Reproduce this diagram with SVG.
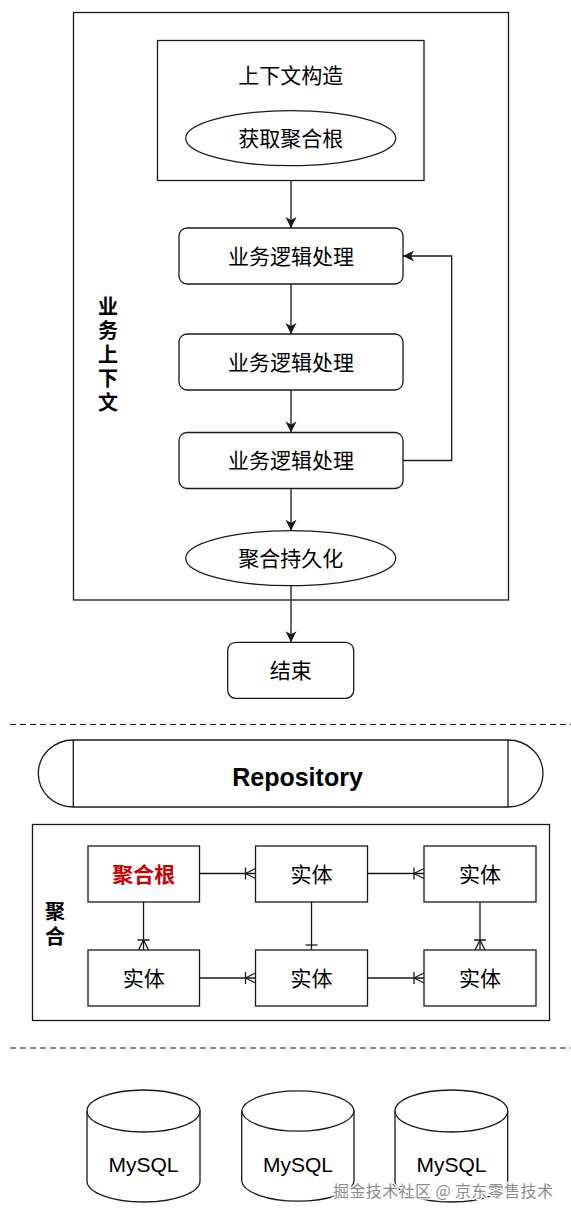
<svg xmlns="http://www.w3.org/2000/svg" width="571" height="1211" viewBox="0 0 571 1211">
<style>
.s{fill:#fff;stroke:#1a1a1a;stroke-width:1.3}
.t{font-family:"Liberation Sans","Noto Sans CJK SC",sans-serif;font-size:21px;fill:#000;text-anchor:middle;dominant-baseline:central}
.b{font-weight:bold}
.c{fill:none;stroke:#1a1a1a;stroke-width:1.3}
.d{fill:none;stroke:#1a1a1a;stroke-width:1.2;stroke-dasharray:6 4}
</style>
<defs>
<marker id="arr" viewBox="-12 -7 14 14" refX="0" refY="0" markerWidth="14" markerHeight="14" markerUnits="userSpaceOnUse" orient="auto" overflow="visible">
<path d="M0,0 L-11,-5.5 L-8,0 L-11,5.5 Z" fill="#1a1a1a"/>
</marker>
<marker id="many" viewBox="-12 -7 14 14" refX="0" refY="0" markerWidth="14" markerHeight="14" markerUnits="userSpaceOnUse" orient="auto" overflow="visible">
<path d="M-10,-6 V6 M-10,0 L0,-5 M-10,0 L0,5" fill="none" stroke="#1a1a1a" stroke-width="1.3"/>
</marker>
<marker id="one" viewBox="-12 -7 14 14" refX="0" refY="0" markerWidth="14" markerHeight="14" markerUnits="userSpaceOnUse" orient="auto" overflow="visible">
<path d="M-5,-6 V6" fill="none" stroke="#1a1a1a" stroke-width="1.3"/>
</marker>
</defs>
<rect width="571" height="1211" fill="#fff"/>

<g id="context">
<rect class="s" x="73.5" y="12.5" width="435" height="587.5"/>
<text class="t b" style="font-size:20px"><tspan x="108" y="307">业</tspan><tspan x="108" y="331">务</tspan><tspan x="108" y="355">上</tspan><tspan x="108" y="379">下</tspan><tspan x="108" y="403">文</tspan></text>
</g>
<g id="construct">
<rect class="s" x="157.5" y="40.5" width="266.5" height="140"/>
<text class="t" x="290.7" y="75">上下文构造</text>
</g>
<g id="getRoot">
<ellipse class="s" cx="290.7" cy="138.2" rx="105" ry="27.5"/>
<text class="t" x="290.7" y="138.2">获取聚合根</text>
</g>
<g id="logic1">
<rect class="s" x="179" y="228" width="224" height="56" rx="8"/>
<text class="t" x="291" y="256">业务逻辑处理</text>
</g>
<g id="logic2">
<rect class="s" x="179" y="334" width="224" height="56" rx="8"/>
<text class="t" x="291" y="362">业务逻辑处理</text>
</g>
<g id="logic3">
<rect class="s" x="179" y="432.5" width="224" height="56" rx="8"/>
<text class="t" x="291" y="460.5">业务逻辑处理</text>
</g>
<g id="persist">
<ellipse class="s" cx="290.7" cy="558.2" rx="105" ry="27.5"/>
<text class="t" x="290.7" y="558.2">聚合持久化</text>
</g>
<g id="end">
<rect class="s" x="227.7" y="642.3" width="126" height="56" rx="8"/>
<text class="t" x="290.7" y="670.3">结束</text>
</g>

<g id="separators">
<line class="d" x1="10" y1="724.5" x2="571" y2="724.5"/>
<line class="d" x1="10" y1="1048" x2="571" y2="1048"/>
</g>

<g id="repository">
<path class="s" d="M73.3,740 H508 A35,33.5 0 0 1 508,807 H73.3 A35,33.5 0 0 1 73.3,740 Z"/>
<line class="c" x1="73.3" y1="740" x2="73.3" y2="807"/>
<line class="c" x1="508" y1="740" x2="508" y2="807"/>
<text class="t b" x="297.5" y="776.5" style="font-size:25px">Repository</text>
</g>

<g id="aggregate">
<rect class="s" x="32.5" y="824.5" width="517" height="196"/>
<text class="t b" style="font-size:20px"><tspan x="55" y="912">聚</tspan><tspan x="55" y="936.5">合</tspan></text>
</g>
<g id="root">
<rect class="s" x="88" y="846" width="111.5" height="56"/>
<text class="t b" x="143.7" y="874" style="fill:#cc0000">聚合根</text>
</g>
<g id="e1">
<rect class="s" x="255.5" y="846" width="112" height="56"/>
<text class="t" x="311.5" y="874">实体</text>
</g>
<g id="e2">
<rect class="s" x="424" y="846" width="112" height="56"/>
<text class="t" x="480" y="874">实体</text>
</g>
<g id="e3">
<rect class="s" x="88" y="950" width="111.5" height="56"/>
<text class="t" x="143.7" y="978">实体</text>
</g>
<g id="e4">
<rect class="s" x="255.5" y="950" width="112" height="56"/>
<text class="t" x="311.5" y="978">实体</text>
</g>
<g id="e5">
<rect class="s" x="424" y="950" width="112" height="56"/>
<text class="t" x="480" y="978">实体</text>
</g>

<g id="db1">
<path class="s" d="M87,1111 A56.5,21 0 0 1 200,1111 V1181 A56.5,21 0 0 1 87,1181 Z"/>
<path class="c" d="M87,1111 A56.5,21 0 0 0 200,1111"/>
<text class="t" x="143.5" y="1164" style="font-size:21px">MySQL</text>
</g>
<g id="db2">
<path class="s" d="M241.7,1111 A56.2,21 0 0 1 354,1111 V1181 A56.2,21 0 0 1 241.7,1181 Z"/>
<path class="c" d="M241.7,1111 A56.2,21 0 0 0 354,1111"/>
<text class="t" x="297.9" y="1164" style="font-size:21px">MySQL</text>
</g>
<g id="db3">
<path class="s" d="M395,1111 A56.3,21 0 0 1 507.7,1111 V1181 A56.3,21 0 0 1 395,1181 Z"/>
<path class="c" d="M395,1111 A56.3,21 0 0 0 507.7,1111"/>
<text class="t" x="451.4" y="1164" style="font-size:21px">MySQL</text>
</g>

<g id="connectors">
<line class="c" x1="291" y1="180.5" x2="291" y2="228" marker-end="url(#arr)"/>
<line class="c" x1="291" y1="284" x2="291" y2="334" marker-end="url(#arr)"/>
<line class="c" x1="291" y1="390" x2="291" y2="432.5" marker-end="url(#arr)"/>
<line class="c" x1="291" y1="488.5" x2="291" y2="530.7" marker-end="url(#arr)"/>
<line class="c" x1="291" y1="585.7" x2="291" y2="642.3" marker-end="url(#arr)"/>
<polyline class="c" points="403,460.5 451.7,460.5 451.7,256 403,256" marker-end="url(#arr)"/>
<line class="c" x1="199.5" y1="873.5" x2="255.5" y2="873.5" marker-end="url(#many)"/>
<line class="c" x1="367.5" y1="873.5" x2="424" y2="873.5" marker-end="url(#many)"/>
<line class="c" x1="143.5" y1="902" x2="143.5" y2="950" marker-end="url(#many)"/>
<line class="c" x1="311.5" y1="902" x2="311.5" y2="950" marker-end="url(#one)"/>
<line class="c" x1="480" y1="902" x2="480" y2="950" marker-end="url(#many)"/>
<line class="c" x1="199.5" y1="978" x2="255.5" y2="978" marker-end="url(#many)"/>
<line class="c" x1="367.5" y1="978" x2="424" y2="978" marker-end="url(#many)"/>
</g>

<text x="333" y="1197" style="font-family:'Noto Sans CJK SC',sans-serif;font-size:16px;letter-spacing:0.4px;fill:#8c8c8c;stroke:#fff;stroke-width:2.5;paint-order:stroke">掘金技术社区 @ 京东零售技术</text>
</svg>
